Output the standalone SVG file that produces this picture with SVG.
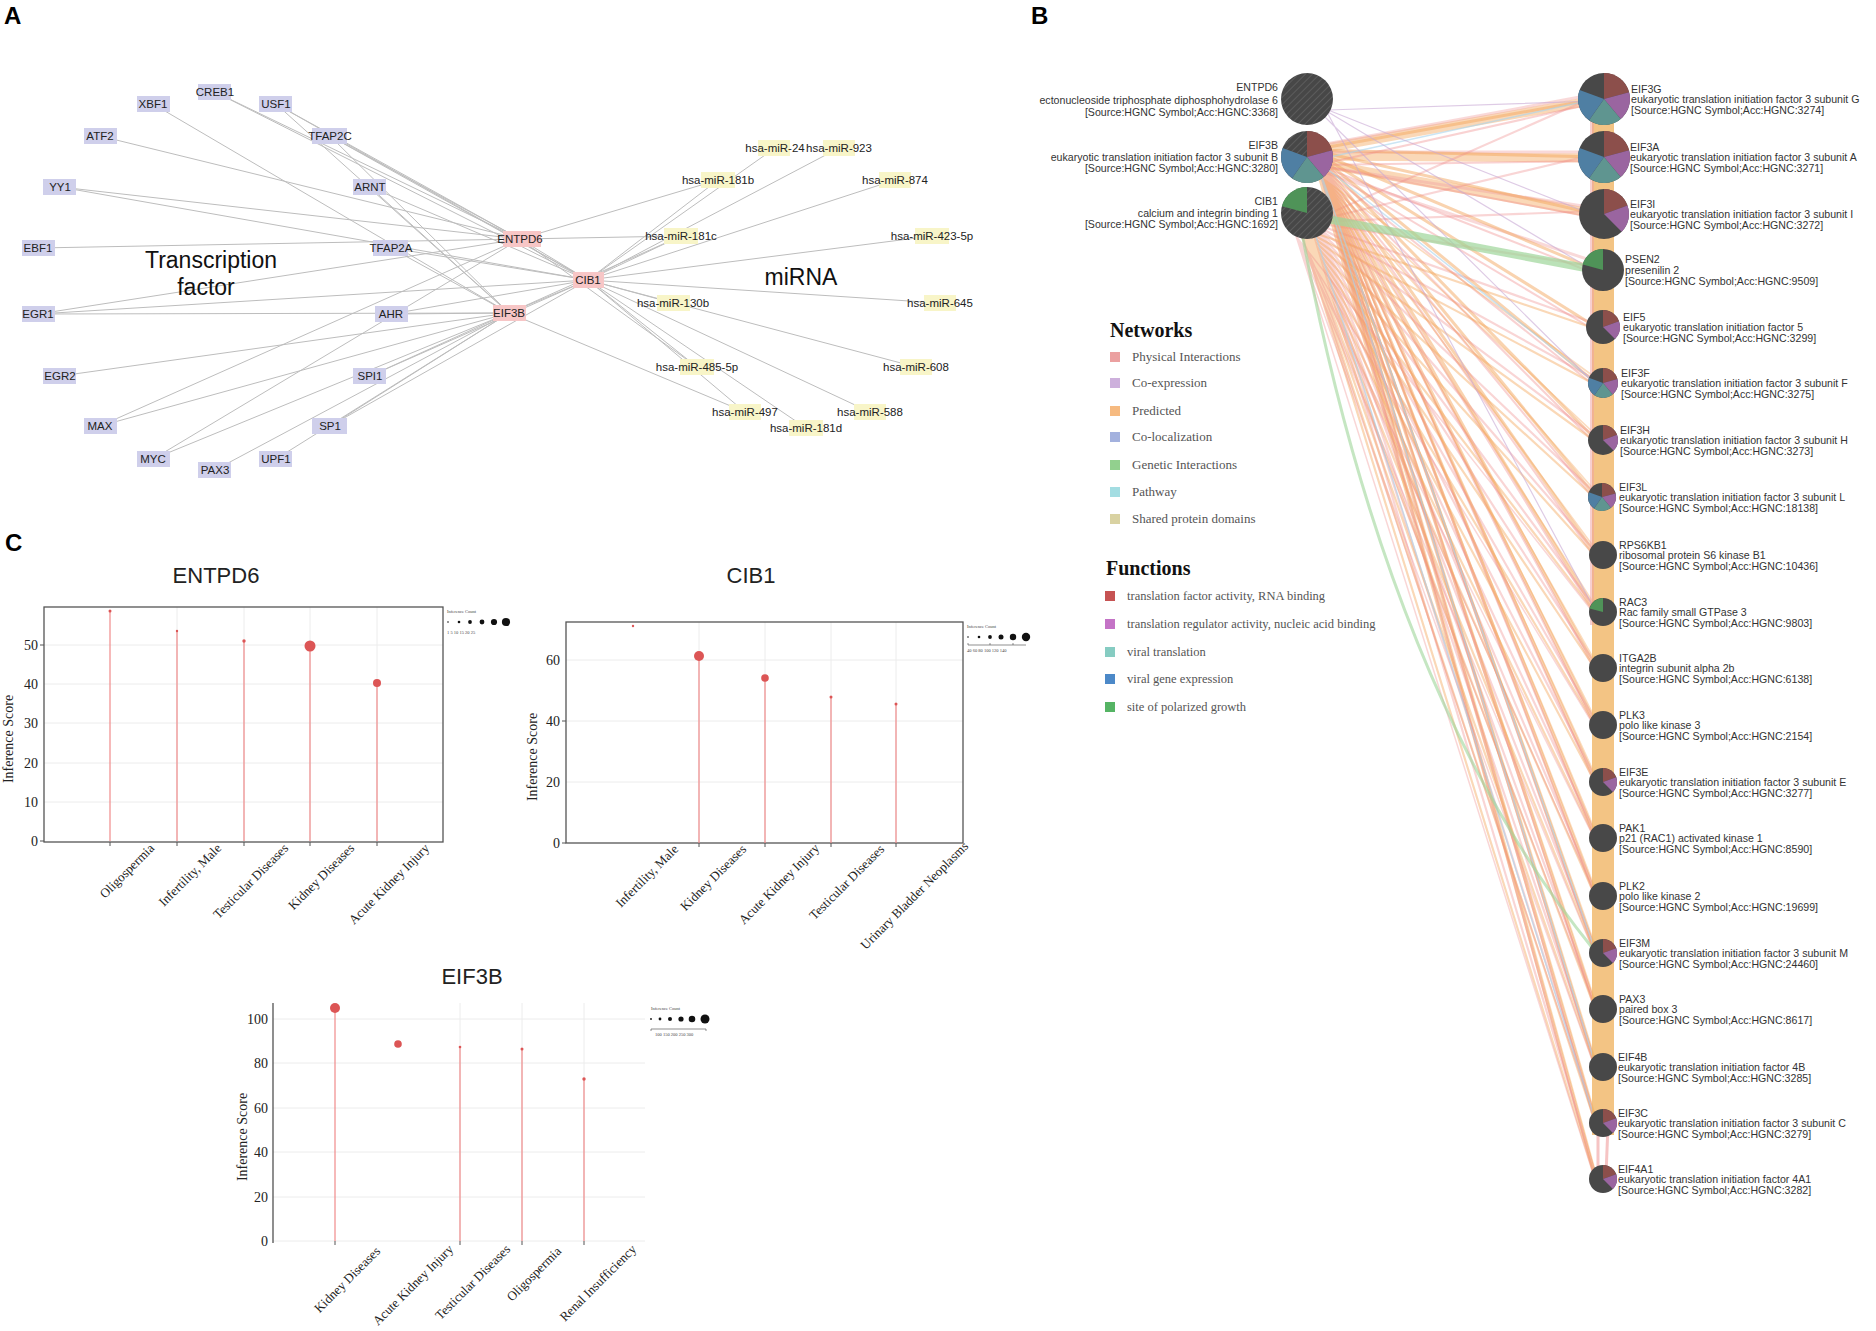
<svg xmlns="http://www.w3.org/2000/svg" xmlns:xlink="http://www.w3.org/1999/xlink" width="1876" height="1331" viewBox="0 0 1876 1331">
<style>
text{font-family:"Liberation Sans",Arial,sans-serif}
.pl{font-size:24px;font-weight:bold;fill:#000}
.nl{font-size:11.5px;fill:#222;text-anchor:middle}
.tf{fill:#cfcfeb}
.hub{fill:#f7c6c6}
.mir{fill:#f8f5c8}
.big{font-size:23px;fill:#111;text-anchor:middle}
.bt{font-size:10.6px;fill:#333}
.btr{font-size:10.6px;fill:#333;text-anchor:end}
.lgh{font-family:"Liberation Serif","Times New Roman",serif;font-size:20px;font-weight:bold;fill:#111}
.lgt{font-family:"Liberation Serif","Times New Roman",serif;font-size:13px;fill:#555}
.lgf{font-family:"Liberation Serif","Times New Roman",serif;font-size:12.5px;fill:#555}
.ct{font-size:22px;fill:#222;text-anchor:middle}
.tk{font-family:"Liberation Serif","Times New Roman",serif;font-size:14px;fill:#222;text-anchor:end}
.yl{font-family:"Liberation Serif","Times New Roman",serif;font-size:14px;fill:#222;text-anchor:middle}
.xl{font-family:"Liberation Serif","Times New Roman",serif;font-size:13px;fill:#222;text-anchor:end}
.sz{font-family:"Liberation Serif","Times New Roman",serif;font-size:4.5px;fill:#444}
.grid{stroke:#ececec;stroke-width:1}
.stem{stroke:#f08a8a;stroke-width:1.2}
.dot{fill:#dc5555}
.box{fill:none;stroke:#555;stroke-width:1.3}
</style>
<defs>
<pattern id="hatch" patternUnits="userSpaceOnUse" width="5" height="5" patternTransform="rotate(45)">
<rect width="5" height="5" fill="#474747"/><line x1="0" y1="0" x2="0" y2="5" stroke="#5c5c5c" stroke-width="2"/>
</pattern>
<g id="pie5"><circle r="1" fill="#484848"/><path d="M0 0L0 -1A1 1 0 0 1 .9659 -.2588Z" fill="#8c4f4b"/><path d="M0 0L.9659 -.2588A1 1 0 0 1 .6428 .766Z" fill="#9a65a0"/><path d="M0 0L.6428 .766A1 1 0 0 1 -.5736 .8192Z" fill="#5f9590"/><path d="M0 0L-.5736 .8192A1 1 0 0 1 -.9397 -.342Z" fill="#4f7fa3"/></g>
<g id="pie2"><circle r="1" fill="#484848"/><path d="M0 0L0 -1A1 1 0 0 1 .9397 -.342Z" fill="#8c4f4b"/><path d="M0 0L.9397 -.342A1 1 0 0 1 .7071 .7071Z" fill="#9a65a0"/></g>
<g id="pieg"><circle r="1" fill="#484848"/><path d="M0 0L-.9659 -.2588A1 1 0 0 1 0 -1Z" fill="#4f9358"/></g>
</defs>
<rect width="1876" height="1331" fill="#fff"/>

<text class="pl" x="4" y="24">A</text>
<text class="pl" x="1031" y="24">B</text>
<text class="pl" x="5" y="551">C</text>

<!-- ============ PANEL A ============ -->
<g id="connectors-a" stroke="#bdbdbd" stroke-width="1" fill="none">
<line x1="153" y1="104" x2="509" y2="313"/>
<line x1="215" y1="92" x2="520" y2="239"/>
<line x1="215" y1="92" x2="588" y2="280"/>
<line x1="276" y1="104" x2="520" y2="239"/>
<line x1="276" y1="104" x2="588" y2="280"/>
<line x1="276" y1="104" x2="509" y2="313"/>
<line x1="100" y1="136" x2="520" y2="239"/>
<line x1="330" y1="136" x2="520" y2="239"/>
<line x1="330" y1="136" x2="588" y2="280"/>
<line x1="330" y1="136" x2="509" y2="313"/>
<line x1="60" y1="187" x2="520" y2="239"/>
<line x1="60" y1="187" x2="588" y2="280"/>
<line x1="370" y1="187" x2="509" y2="313"/>
<line x1="370" y1="187" x2="588" y2="280"/>
<line x1="38" y1="248" x2="520" y2="239"/>
<line x1="391" y1="248" x2="509" y2="313"/>
<line x1="391" y1="248" x2="588" y2="280"/>
<line x1="38" y1="314" x2="520" y2="239"/>
<line x1="38" y1="314" x2="588" y2="280"/>
<line x1="38" y1="314" x2="509" y2="313"/>
<line x1="391" y1="314" x2="588" y2="280"/>
<line x1="391" y1="314" x2="509" y2="313"/>
<line x1="60" y1="376" x2="509" y2="313"/>
<line x1="370" y1="376" x2="509" y2="313"/>
<line x1="370" y1="376" x2="588" y2="280"/>
<line x1="100" y1="426" x2="520" y2="239"/>
<line x1="100" y1="426" x2="509" y2="313"/>
<line x1="330" y1="426" x2="509" y2="313"/>
<line x1="330" y1="426" x2="588" y2="280"/>
<line x1="153" y1="459" x2="520" y2="239"/>
<line x1="153" y1="459" x2="509" y2="313"/>
<line x1="215" y1="470" x2="509" y2="313"/>
<line x1="276" y1="459" x2="509" y2="313"/>
<line x1="520" y1="239" x2="588" y2="280"/>
<line x1="509" y1="313" x2="588" y2="280"/>
<line x1="588" y1="280" x2="775" y2="148"/>
<line x1="588" y1="280" x2="839" y2="148"/>
<line x1="588" y1="280" x2="718" y2="180"/>
<line x1="588" y1="280" x2="895" y2="180"/>
<line x1="588" y1="280" x2="681" y2="236"/>
<line x1="588" y1="280" x2="932" y2="236"/>
<line x1="588" y1="280" x2="673" y2="303"/>
<line x1="588" y1="280" x2="940" y2="303"/>
<line x1="588" y1="280" x2="697" y2="367"/>
<line x1="588" y1="280" x2="916" y2="367"/>
<line x1="588" y1="280" x2="745" y2="412"/>
<line x1="588" y1="280" x2="870" y2="412"/>
<line x1="588" y1="280" x2="806" y2="428"/>
<line x1="520" y1="239" x2="718" y2="180"/>
<line x1="520" y1="239" x2="681" y2="236"/>
<line x1="520" y1="239" x2="697" y2="367"/>
<line x1="509" y1="313" x2="681" y2="236"/>
<line x1="509" y1="313" x2="745" y2="412"/>
</g>

<text class="big" x="211" y="268">Transcription</text>
<text class="big" x="206" y="295">factor</text>
<text class="big" x="801" y="285">miRNA</text>

<g id="a-xbf1"><rect class="tf" x="137" y="96" width="33" height="16"/><text class="nl" x="153" y="108">XBF1</text></g>
<g id="a-creb1"><rect class="tf" x="198" y="84" width="33" height="16"/><text class="nl" x="215" y="96">CREB1</text></g>
<g id="a-usf1"><rect class="tf" x="259" y="96" width="33" height="16"/><text class="nl" x="276" y="108">USF1</text></g>
<g id="a-atf2"><rect class="tf" x="84" y="128" width="33" height="16"/><text class="nl" x="100" y="140">ATF2</text></g>
<g id="a-tfap2c"><rect class="tf" x="312" y="128" width="35" height="16"/><text class="nl" x="330" y="140">TFAP2C</text></g>
<g id="a-yy1"><rect class="tf" x="43" y="179" width="33" height="16"/><text class="nl" x="60" y="191">YY1</text></g>
<g id="a-arnt"><rect class="tf" x="353" y="179" width="33" height="16"/><text class="nl" x="370" y="191">ARNT</text></g>
<g id="a-ebf1"><rect class="tf" x="22" y="240" width="33" height="16"/><text class="nl" x="38" y="252">EBF1</text></g>
<g id="a-tfap2a"><rect class="tf" x="373" y="240" width="35" height="16"/><text class="nl" x="391" y="252">TFAP2A</text></g>
<g id="a-egr1"><rect class="tf" x="22" y="306" width="33" height="16"/><text class="nl" x="38" y="318">EGR1</text></g>
<g id="a-ahr"><rect class="tf" x="375" y="306" width="33" height="16"/><text class="nl" x="391" y="318">AHR</text></g>
<g id="a-egr2"><rect class="tf" x="43" y="368" width="33" height="16"/><text class="nl" x="60" y="380">EGR2</text></g>
<g id="a-spi1"><rect class="tf" x="353" y="368" width="33" height="16"/><text class="nl" x="370" y="380">SPI1</text></g>
<g id="a-max"><rect class="tf" x="84" y="418" width="33" height="16"/><text class="nl" x="100" y="430">MAX</text></g>
<g id="a-sp1"><rect class="tf" x="312" y="418" width="35" height="16"/><text class="nl" x="330" y="430">SP1</text></g>
<g id="a-myc"><rect class="tf" x="137" y="451" width="33" height="16"/><text class="nl" x="153" y="463">MYC</text></g>
<g id="a-pax3"><rect class="tf" x="198" y="462" width="33" height="16"/><text class="nl" x="215" y="474">PAX3</text></g>
<g id="a-upf1"><rect class="tf" x="259" y="451" width="33" height="16"/><text class="nl" x="276" y="463">UPF1</text></g>

<g id="a-entpd6"><rect class="hub" x="503" y="231" width="38" height="16"/><text class="nl" x="520" y="243">ENTPD6</text></g>
<g id="a-eif3b"><rect class="hub" x="493" y="305" width="33" height="16"/><text class="nl" x="509" y="317">EIF3B</text></g>
<g id="a-cib1"><rect class="hub" x="573" y="272" width="31" height="16"/><text class="nl" x="588" y="284">CIB1</text></g>

<g id="a-mir24"><rect class="mir" x="758" y="140" width="32" height="16"/><text class="nl" x="775" y="152">hsa-miR-24</text></g>
<g id="a-mir923"><rect class="mir" x="823" y="140" width="32" height="16"/><text class="nl" x="839" y="152">hsa-miR-923</text></g>
<g id="a-mir181b"><rect class="mir" x="701" y="172" width="34" height="16"/><text class="nl" x="718" y="184">hsa-miR-181b</text></g>
<g id="a-mir874"><rect class="mir" x="879" y="172" width="32" height="16"/><text class="nl" x="895" y="184">hsa-miR-874</text></g>
<g id="a-mir181c"><rect class="mir" x="664" y="228" width="34" height="16"/><text class="nl" x="681" y="240">hsa-miR-181c</text></g>
<g id="a-mir4235p"><rect class="mir" x="915" y="228" width="34" height="16"/><text class="nl" x="932" y="240">hsa-miR-423-5p</text></g>
<g id="a-mir130b"><rect class="mir" x="657" y="295" width="33" height="16"/><text class="nl" x="673" y="307">hsa-miR-130b</text></g>
<g id="a-mir645"><rect class="mir" x="924" y="295" width="32" height="16"/><text class="nl" x="940" y="307">hsa-miR-645</text></g>
<g id="a-mir4855p"><rect class="mir" x="680" y="359" width="34" height="16"/><text class="nl" x="697" y="371">hsa-miR-485-5p</text></g>
<g id="a-mir608"><rect class="mir" x="900" y="359" width="32" height="16"/><text class="nl" x="916" y="371">hsa-miR-608</text></g>
<g id="a-mir497"><rect class="mir" x="729" y="404" width="32" height="16"/><text class="nl" x="745" y="416">hsa-miR-497</text></g>
<g id="a-mir588"><rect class="mir" x="854" y="404" width="32" height="16"/><text class="nl" x="870" y="416">hsa-miR-588</text></g>
<g id="a-mir181d"><rect class="mir" x="789" y="420" width="34" height="16"/><text class="nl" x="806" y="432">hsa-miR-181d</text></g>

<!-- ============ PANEL B ============ -->
<g id="connectors-b" fill="none" stroke-linecap="round">
<path stroke="#f4a860" stroke-width="9" stroke-opacity=".45" d="M1315 150L1596 100M1315 156L1596 158M1315 162L1596 214"/>
<path stroke="#f0a0a0" stroke-width="3" stroke-opacity=".4" d="M1315 146L1596 94M1315 152L1596 152M1318 166L1596 208M1318 170L1596 262"/>
<path stroke="#f4a860" stroke-width="3" stroke-opacity=".5" d="M1312 150L1596 99M1312 150L1596 157M1312 150L1596 214M1312 150L1596 270M1312 150L1596 327M1312 150L1596 383M1312 150L1596 440M1312 150L1596 497M1312 150L1596 555M1312 150L1596 612M1312 150L1596 668M1312 150L1596 725M1312 150L1596 782M1312 150L1596 838M1312 150L1596 896M1312 150L1596 953M1312 150L1596 1009M1312 150L1596 1067M1312 150L1596 1123M1312 150L1596 1179"/>
<path stroke="#ee8a8a" stroke-width="2" stroke-opacity=".38" d="M1318 165L1596 103M1318 165L1596 161M1318 165L1596 218M1318 165L1596 274M1318 165L1596 331M1318 165L1596 387M1318 165L1596 444M1318 165L1596 501M1318 165L1596 559M1318 165L1596 616M1318 165L1596 672M1318 165L1596 729M1318 165L1596 786M1318 165L1596 842M1318 165L1596 900M1318 165L1596 957M1318 165L1596 1013M1318 165L1596 1071M1318 165L1596 1127M1318 165L1596 1183"/>
<path stroke="#ee8a8a" stroke-width="2.2" stroke-opacity=".36" d="M1310 222L1596 96M1310 222L1596 154M1310 222L1596 211M1310 222L1596 267M1310 222L1596 324M1310 222L1596 380M1310 222L1596 437M1310 222L1596 494M1310 222L1596 552M1310 222L1596 609M1310 222L1596 665M1310 222L1596 722M1310 222L1596 779M1310 222L1596 835M1310 222L1596 893M1310 222L1596 950M1310 222L1596 1006M1310 222L1596 1064M1310 222L1596 1120M1310 222L1596 1176"/>
<path stroke="#f4a860" stroke-width="2.2" stroke-opacity=".45" d="M1300 228L1596 329M1300 228L1596 385M1300 228L1596 442M1300 228L1596 499M1300 228L1596 557M1300 228L1596 614M1300 228L1596 670M1300 228L1596 727M1300 228L1596 784M1300 228L1596 840M1300 228L1596 898M1300 228L1596 955M1300 228L1596 1011M1300 228L1596 1069M1300 228L1596 1125M1300 228L1596 1181"/>
<path stroke="#f4a860" stroke-width="1.6" stroke-opacity=".4" d="M1322 178L1596 378M1322 178L1596 435M1322 178L1596 492M1322 178L1596 550M1322 178L1596 607M1322 178L1596 663M1322 178L1596 720M1322 178L1596 777M1322 178L1596 833M1322 178L1596 891M1322 178L1596 948M1322 178L1596 1004M1322 178L1596 1062M1322 178L1596 1118M1322 178L1596 1174"/>
<path stroke="#ee8a8a" stroke-width="1.5" stroke-opacity=".35" d="M1296 236L1596 616M1296 236L1596 729M1296 236L1596 842M1296 236L1596 957M1296 236L1596 1071M1296 236L1596 1183M1302 238L1596 1123M1302 238L1596 1009M1302 238L1596 896"/>
<path stroke="#a8d4ec" stroke-width="1.5" stroke-opacity=".6" d="M1316 160L1596 1067M1316 160L1596 953M1316 160L1596 383M1316 160L1596 99M1312 224L1596 1123"/>
<path stroke="#c8a8d4" stroke-width="1.2" stroke-opacity=".6" d="M1328 110L1596 101M1328 110L1596 216M1328 112L1596 272M1328 114L1596 612M1326 118L1596 385"/>
<path stroke="#9ed69a" stroke-width="8" stroke-opacity=".7" d="M1322 218L1596 270"/>
<path stroke="#9ed69a" stroke-width="3" stroke-opacity=".6" d="M1303 238Q1390 700 1594 950"/>
</g>
<rect x="1592" y="105" width="22" height="1030" fill="#f0b565" fill-opacity=".8"/>
<rect x="1590" y="105" width="4" height="520" fill="#f0a0a0" fill-opacity=".5"/>
<path d="M1598 1125L1598 1175M1608 1125L1606 1175" stroke="#ee8a8a" stroke-width="3" stroke-opacity=".5" fill="none"/>

<g id="b-entpd6"><circle cx="1307" cy="99" r="26" fill="url(#hatch)"/><text class="btr" y="99"><tspan x="1278" dy="-8">ENTPD6</tspan><tspan x="1278" dy="13">ectonucleoside triphosphate diphosphohydrolase 6</tspan><tspan x="1278" dy="12">[Source:HGNC Symbol;Acc:HGNC:3368]</tspan></text></g>
<g id="b-eif3b"><circle cx="1307" cy="157" r="26" fill="url(#hatch)"/><path d="M1307 157L1307 131A26 26 0 0 1 1332.11 150.27Z" fill="#8c4f4b"/><path d="M1307 157L1332.11 150.27A26 26 0 0 1 1323.71 176.92Z" fill="#9a65a0"/><path d="M1307 157L1323.71 176.92A26 26 0 0 1 1292.09 178.3Z" fill="#5f9590"/><path d="M1307 157L1292.09 178.3A26 26 0 0 1 1282.57 148.11Z" fill="#4f7fa3"/><text class="btr" y="157"><tspan x="1278" dy="-8">EIF3B</tspan><tspan x="1278" dy="12">eukaryotic translation initiation factor 3 subunit B</tspan><tspan x="1278" dy="11">[Source:HGNC Symbol;Acc:HGNC:3280]</tspan></text></g>
<g id="b-cib1"><circle cx="1307" cy="213" r="26" fill="url(#hatch)"/><path d="M1307 213L1281.89 206.27A26 26 0 0 1 1307 187Z" fill="#4f9358"/><text class="btr" y="213"><tspan x="1278" dy="-8">CIB1</tspan><tspan x="1278" dy="12">calcium and integrin binding 1</tspan><tspan x="1278" dy="11">[Source:HGNC Symbol;Acc:HGNC:1692]</tspan></text></g>

<g id="b-eif3g"><use href="#pie5" transform="translate(1604 99) scale(26)"/><text class="bt"><tspan x="1631" y="93">EIF3G</tspan><tspan x="1631" y="103">eukaryotic translation initiation factor 3 subunit G</tspan><tspan x="1631" y="114">[Source:HGNC Symbol;Acc:HGNC:3274]</tspan></text></g>
<g id="b-eif3a"><use href="#pie5" transform="translate(1604 157) scale(26)"/><text class="bt"><tspan x="1630" y="151">EIF3A</tspan><tspan x="1630" y="161">eukaryotic translation initiation factor 3 subunit A</tspan><tspan x="1630" y="172">[Source:HGNC Symbol;Acc:HGNC:3271]</tspan></text></g>
<g id="b-eif3i"><use href="#pie2" transform="translate(1604 214) scale(25)"/><text class="bt"><tspan x="1630" y="208">EIF3I</tspan><tspan x="1630" y="218">eukaryotic translation initiation factor 3 subunit I</tspan><tspan x="1630" y="229">[Source:HGNC Symbol;Acc:HGNC:3272]</tspan></text></g>
<g id="b-psen2"><use href="#pieg" transform="translate(1603 270) scale(21)"/><text class="bt"><tspan x="1625" y="263">PSEN2</tspan><tspan x="1625" y="274">presenilin 2</tspan><tspan x="1625" y="285">[Source:HGNC Symbol;Acc:HGNC:9509]</tspan></text></g>
<g id="b-eif5"><use href="#pie2" transform="translate(1603 327) scale(17)"/><text class="bt"><tspan x="1623" y="321">EIF5</tspan><tspan x="1623" y="331">eukaryotic translation initiation factor 5</tspan><tspan x="1623" y="342">[Source:HGNC Symbol;Acc:HGNC:3299]</tspan></text></g>
<g id="b-eif3f"><use href="#pie5" transform="translate(1603 383) scale(15)"/><text class="bt"><tspan x="1621" y="377">EIF3F</tspan><tspan x="1621" y="387">eukaryotic translation initiation factor 3 subunit F</tspan><tspan x="1621" y="398">[Source:HGNC Symbol;Acc:HGNC:3275]</tspan></text></g>
<g id="b-eif3h"><use href="#pie2" transform="translate(1603 440) scale(15)"/><text class="bt"><tspan x="1620" y="434">EIF3H</tspan><tspan x="1620" y="444">eukaryotic translation initiation factor 3 subunit H</tspan><tspan x="1620" y="455">[Source:HGNC Symbol;Acc:HGNC:3273]</tspan></text></g>
<g id="b-eif3l"><use href="#pie5" transform="translate(1602 497) scale(14)"/><text class="bt"><tspan x="1619" y="491">EIF3L</tspan><tspan x="1619" y="501">eukaryotic translation initiation factor 3 subunit L</tspan><tspan x="1619" y="512">[Source:HGNC Symbol;Acc:HGNC:18138]</tspan></text></g>
<g id="b-rps6kb1"><circle cx="1603" cy="555" r="14" fill="#484848"/><text class="bt"><tspan x="1619" y="549">RPS6KB1</tspan><tspan x="1619" y="559">ribosomal protein S6 kinase B1</tspan><tspan x="1619" y="570">[Source:HGNC Symbol;Acc:HGNC:10436]</tspan></text></g>
<g id="b-rac3"><use href="#pieg" transform="translate(1603 612) scale(14)"/><text class="bt"><tspan x="1619" y="606">RAC3</tspan><tspan x="1619" y="616">Rac family small GTPase 3</tspan><tspan x="1619" y="627">[Source:HGNC Symbol;Acc:HGNC:9803]</tspan></text></g>
<g id="b-itga2b"><circle cx="1603" cy="668" r="14" fill="#484848"/><text class="bt"><tspan x="1619" y="662">ITGA2B</tspan><tspan x="1619" y="672">integrin subunit alpha 2b</tspan><tspan x="1619" y="683">[Source:HGNC Symbol;Acc:HGNC:6138]</tspan></text></g>
<g id="b-plk3"><circle cx="1603" cy="725" r="14" fill="#484848"/><text class="bt"><tspan x="1619" y="719">PLK3</tspan><tspan x="1619" y="729">polo like kinase 3</tspan><tspan x="1619" y="740">[Source:HGNC Symbol;Acc:HGNC:2154]</tspan></text></g>
<g id="b-eif3e"><use href="#pie2" transform="translate(1603 782) scale(14)"/><text class="bt"><tspan x="1619" y="776">EIF3E</tspan><tspan x="1619" y="786">eukaryotic translation initiation factor 3 subunit E</tspan><tspan x="1619" y="797">[Source:HGNC Symbol;Acc:HGNC:3277]</tspan></text></g>
<g id="b-pak1"><circle cx="1603" cy="838" r="14" fill="#484848"/><text class="bt"><tspan x="1619" y="832">PAK1</tspan><tspan x="1619" y="842">p21 (RAC1) activated kinase 1</tspan><tspan x="1619" y="853">[Source:HGNC Symbol;Acc:HGNC:8590]</tspan></text></g>
<g id="b-plk2"><circle cx="1603" cy="896" r="14" fill="#484848"/><text class="bt"><tspan x="1619" y="890">PLK2</tspan><tspan x="1619" y="900">polo like kinase 2</tspan><tspan x="1619" y="911">[Source:HGNC Symbol;Acc:HGNC:19699]</tspan></text></g>
<g id="b-eif3m"><use href="#pie2" transform="translate(1603 953) scale(14)"/><text class="bt"><tspan x="1619" y="947">EIF3M</tspan><tspan x="1619" y="957">eukaryotic translation initiation factor 3 subunit M</tspan><tspan x="1619" y="968">[Source:HGNC Symbol;Acc:HGNC:24460]</tspan></text></g>
<g id="b-pax3"><circle cx="1603" cy="1009" r="14" fill="#484848"/><text class="bt"><tspan x="1619" y="1003">PAX3</tspan><tspan x="1619" y="1013">paired box 3</tspan><tspan x="1619" y="1024">[Source:HGNC Symbol;Acc:HGNC:8617]</tspan></text></g>
<g id="b-eif4b"><circle cx="1603" cy="1067" r="14" fill="#484848"/><text class="bt"><tspan x="1618" y="1061">EIF4B</tspan><tspan x="1618" y="1071">eukaryotic translation initiation factor 4B</tspan><tspan x="1618" y="1082">[Source:HGNC Symbol;Acc:HGNC:3285]</tspan></text></g>
<g id="b-eif3c"><use href="#pie2" transform="translate(1603 1123) scale(14)"/><text class="bt"><tspan x="1618" y="1117">EIF3C</tspan><tspan x="1618" y="1127">eukaryotic translation initiation factor 3 subunit C</tspan><tspan x="1618" y="1138">[Source:HGNC Symbol;Acc:HGNC:3279]</tspan></text></g>
<g id="b-eif4a1"><use href="#pie2" transform="translate(1603 1179) scale(14)"/><text class="bt"><tspan x="1618" y="1173">EIF4A1</tspan><tspan x="1618" y="1183">eukaryotic translation initiation factor 4A1</tspan><tspan x="1618" y="1194">[Source:HGNC Symbol;Acc:HGNC:3282]</tspan></text></g>

<g id="b-legend">
<text class="lgh" x="1110" y="337">Networks</text>
<rect x="1110" y="352" width="10" height="10" fill="#eba0a0"/><text class="lgt" x="1132" y="361">Physical Interactions</text>
<rect x="1110" y="378" width="10" height="10" fill="#cdb0dc"/><text class="lgt" x="1132" y="387">Co-expression</text>
<rect x="1110" y="406" width="10" height="10" fill="#f6ba80"/><text class="lgt" x="1132" y="415">Predicted</text>
<rect x="1110" y="432" width="10" height="10" fill="#a3b1de"/><text class="lgt" x="1132" y="441">Co-localization</text>
<rect x="1110" y="460" width="10" height="10" fill="#92d08e"/><text class="lgt" x="1132" y="469">Genetic Interactions</text>
<rect x="1110" y="487" width="10" height="10" fill="#a3dde2"/><text class="lgt" x="1132" y="496">Pathway</text>
<rect x="1110" y="514" width="10" height="10" fill="#d9d2a2"/><text class="lgt" x="1132" y="523">Shared protein domains</text>
<text class="lgh" x="1106" y="575">Functions</text>
<rect x="1105" y="591" width="10" height="10" fill="#c65353"/><text class="lgf" x="1127" y="600">translation factor activity, RNA binding</text>
<rect x="1105" y="619" width="10" height="10" fill="#c473c6"/><text class="lgf" x="1127" y="628">translation regulator activity, nucleic acid binding</text>
<rect x="1105" y="647" width="10" height="10" fill="#86ccc2"/><text class="lgf" x="1127" y="656">viral translation</text>
<rect x="1105" y="674" width="10" height="10" fill="#4c89c8"/><text class="lgf" x="1127" y="683">viral gene expression</text>
<rect x="1105" y="702" width="10" height="10" fill="#55b464"/><text class="lgf" x="1127" y="711">site of polarized growth</text>
</g>

<!-- ============ PANEL C ============ -->
<g id="c-entpd6">
<text class="ct" x="216" y="583">ENTPD6</text>
<g class="grid"><line x1="44" y1="802" x2="443" y2="802"/><line x1="44" y1="763" x2="443" y2="763"/><line x1="44" y1="723" x2="443" y2="723"/><line x1="44" y1="684" x2="443" y2="684"/><line x1="44" y1="645" x2="443" y2="645"/><line x1="177" y1="607" x2="177" y2="841"/><line x1="244" y1="607" x2="244" y2="841"/><line x1="310" y1="607" x2="310" y2="841"/><line x1="377" y1="607" x2="377" y2="841"/></g>
<rect class="box" x="44" y="607" width="399" height="235"/>
<g class="stem"><line x1="110" y1="841" x2="110" y2="611"/><line x1="177" y1="841" x2="177" y2="631"/><line x1="244" y1="841" x2="244" y2="641"/><line x1="310" y1="841" x2="310" y2="646"/><line x1="377" y1="841" x2="377" y2="683"/></g>
<g stroke="#555" stroke-width="1"><line x1="110" y1="842" x2="110" y2="846"/><line x1="177" y1="842" x2="177" y2="846"/><line x1="244" y1="842" x2="244" y2="846"/><line x1="310" y1="842" x2="310" y2="846"/><line x1="377" y1="842" x2="377" y2="846"/><line x1="40" y1="841" x2="44" y2="841"/><line x1="40" y1="645" x2="44" y2="645"/></g>
<circle class="dot" cx="110" cy="611" r="1.5"/><circle class="dot" cx="177" cy="631" r="1.2"/><circle class="dot" cx="244" cy="641" r="1.7"/><circle class="dot" cx="310" cy="646" r="5.5"/><circle class="dot" cx="377" cy="683" r="4"/>
<text class="tk" x="38" y="846">0</text><text class="tk" x="38" y="807">10</text><text class="tk" x="38" y="768">20</text><text class="tk" x="38" y="728">30</text><text class="tk" x="38" y="689">40</text><text class="tk" x="38" y="650">50</text>
<text class="yl" transform="translate(13 739) rotate(-90)">Inference Score</text>
<text class="xl" transform="translate(155 849) rotate(-45)">Oligospermia</text>
<text class="xl" transform="translate(222 849) rotate(-45)">Infertility, Male</text>
<text class="xl" transform="translate(289 849) rotate(-45)">Testicular Diseases</text>
<text class="xl" transform="translate(355 849) rotate(-45)">Kidney Diseases</text>
<text class="xl" transform="translate(430 849) rotate(-45)">Acute Kidney Injury</text>
<text class="sz" x="447" y="613">Inference Count</text>
<g fill="#111"><circle cx="448" cy="622" r=".8"/><circle cx="459" cy="622" r="1.3"/><circle cx="470" cy="622" r="1.9"/><circle cx="482" cy="622" r="2.4"/><circle cx="494" cy="622" r="3.1"/><circle cx="506" cy="622" r="4.1"/></g>
<text class="sz" x="447" y="634">1  5  10  15  20  25</text>
</g>

<g id="c-cib1">
<text class="ct" x="751" y="583">CIB1</text>
<g class="grid"><line x1="566" y1="782" x2="963" y2="782"/><line x1="566" y1="721" x2="963" y2="721"/><line x1="566" y1="660" x2="963" y2="660"/><line x1="699" y1="622" x2="699" y2="843"/><line x1="765" y1="622" x2="765" y2="843"/><line x1="831" y1="622" x2="831" y2="843"/><line x1="896" y1="622" x2="896" y2="843"/></g>
<rect class="box" x="566" y="622" width="397" height="221"/>
<g class="stem"><line x1="699" y1="843" x2="699" y2="656"/><line x1="765" y1="843" x2="765" y2="678"/><line x1="831" y1="843" x2="831" y2="697"/><line x1="896" y1="843" x2="896" y2="704"/></g>
<g stroke="#555" stroke-width="1"><line x1="699" y1="843" x2="699" y2="847"/><line x1="765" y1="843" x2="765" y2="847"/><line x1="831" y1="843" x2="831" y2="847"/><line x1="896" y1="843" x2="896" y2="847"/><line x1="562" y1="843" x2="566" y2="843"/><line x1="562" y1="721" x2="566" y2="721"/></g>
<circle class="dot" cx="633" cy="626" r="1.2"/><circle class="dot" cx="699" cy="656" r="5"/><circle class="dot" cx="765" cy="678" r="3.8"/><circle class="dot" cx="831" cy="697" r="1.5"/><circle class="dot" cx="896" cy="704" r="1.5"/>
<text class="tk" x="560" y="848">0</text><text class="tk" x="560" y="787">20</text><text class="tk" x="560" y="726">40</text><text class="tk" x="560" y="665">60</text>
<text class="yl" transform="translate(537 757) rotate(-90)">Inference Score</text>
<text class="xl" transform="translate(679 850) rotate(-45)">Infertility, Male</text>
<text class="xl" transform="translate(747 850) rotate(-45)">Kidney Diseases</text>
<text class="xl" transform="translate(820 849) rotate(-45)">Acute Kidney Injury</text>
<text class="xl" transform="translate(885 850) rotate(-45)">Testicular Diseases</text>
<text class="xl" transform="translate(969 847) rotate(-45)">Urinary Bladder Neoplasms</text>
<text class="sz" x="967" y="628">Inference Count</text>
<g fill="#111"><circle cx="968" cy="637" r=".8"/><circle cx="979" cy="637" r="1.3"/><circle cx="990" cy="637" r="1.9"/><circle cx="1001" cy="637" r="2.5"/><circle cx="1013" cy="637" r="3.2"/><circle cx="1026" cy="637" r="4.2"/></g>
<path d="M968 645L1026 645M968 645L968 643M990 645L990 643M1013 645L1013 643" stroke="#444" stroke-width=".6" fill="none"/>
<text class="sz" x="967" y="652" fill="#a44">40 60 80 100 120 140</text>
</g>

<g id="c-eif3b">
<text class="ct" x="472" y="984">EIF3B</text>
<g class="grid"><line x1="273" y1="1241" x2="645" y2="1241"/><line x1="273" y1="1197" x2="645" y2="1197"/><line x1="273" y1="1152" x2="645" y2="1152"/><line x1="273" y1="1108" x2="645" y2="1108"/><line x1="273" y1="1063" x2="645" y2="1063"/><line x1="273" y1="1019" x2="645" y2="1019"/><line x1="460" y1="1003" x2="460" y2="1241"/><line x1="522" y1="1003" x2="522" y2="1241"/><line x1="584" y1="1003" x2="584" y2="1241"/></g>
<line x1="273" y1="1003" x2="273" y2="1243" stroke="#444" stroke-width="1.2"/>
<g class="stem"><line x1="335" y1="1241" x2="335" y2="1008"/><line x1="460" y1="1241" x2="460" y2="1047"/><line x1="522" y1="1241" x2="522" y2="1049"/><line x1="584" y1="1241" x2="584" y2="1079"/></g>
<g stroke="#555" stroke-width="1"><line x1="335" y1="1241" x2="335" y2="1245"/><line x1="460" y1="1241" x2="460" y2="1245"/><line x1="522" y1="1241" x2="522" y2="1245"/><line x1="584" y1="1241" x2="584" y2="1245"/></g>
<circle class="dot" cx="335" cy="1008" r="5"/><circle class="dot" cx="398" cy="1044" r="3.8"/><circle class="dot" cx="460" cy="1047" r="1.3"/><circle class="dot" cx="522" cy="1049" r="1.5"/><circle class="dot" cx="584" cy="1079" r="1.7"/>
<text class="tk" x="268" y="1246">0</text><text class="tk" x="268" y="1202">20</text><text class="tk" x="268" y="1157">40</text><text class="tk" x="268" y="1113">60</text><text class="tk" x="268" y="1068">80</text><text class="tk" x="268" y="1024">100</text>
<text class="yl" transform="translate(247 1137) rotate(-90)">Inference Score</text>
<text class="xl" transform="translate(381 1252) rotate(-45)">Kidney Diseases</text>
<text class="xl" transform="translate(454 1250) rotate(-45)">Acute Kidney Injury</text>
<text class="xl" transform="translate(511 1250) rotate(-45)">Testicular Diseases</text>
<text class="xl" transform="translate(562 1252) rotate(-45)">Oligospermia</text>
<text class="xl" transform="translate(637 1250) rotate(-45)">Renal Insufficiency</text>
<text class="sz" x="651" y="1010">Inference Count</text>
<g fill="#111"><circle cx="651" cy="1019" r=".9"/><circle cx="660" cy="1019" r="1.4"/><circle cx="670" cy="1019" r="2"/><circle cx="681" cy="1019" r="2.6"/><circle cx="692" cy="1019" r="3.3"/><circle cx="705" cy="1019" r="4.5"/></g>
<path d="M651 1031L651 1029L706 1029L706 1031" stroke="#444" stroke-width=".6" fill="none"/>
<text class="sz" x="655" y="1036">100 150 200 250 300</text>
</g>
</svg>
